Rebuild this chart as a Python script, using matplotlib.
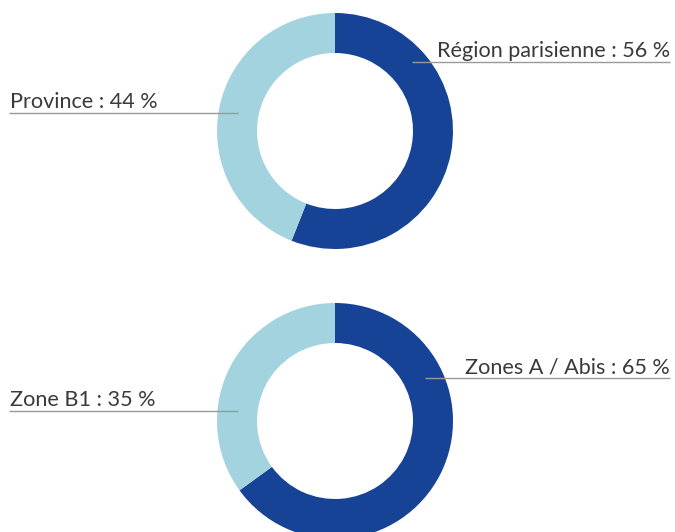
import matplotlib
matplotlib.use("Agg")
import matplotlib.pyplot as plt

# data
top_labels = ["Région parisienne", "Province"]
top_values = [56, 44]
bottom_labels = ["Zones A / Abis", "Zone B1"]
bottom_values = [65, 35]
colors = ["#174396", "#a3d3de"]

W, H = 675, 532
fig = plt.figure(figsize=(W / 100, H / 100), dpi=100)
ax = fig.add_axes([0, 0, 1, 1])
ax.set_xlim(0, W)
ax.set_ylim(0, H)
ax.set_aspect("equal")
ax.axis("off")

R = 118
ring = 40 / R

def donut(values, cy):
    ax.pie(values, colors=colors, startangle=90, counterclock=False,
           center=(335, H - cy), radius=R,
           wedgeprops=dict(width=R * ring, linewidth=0))

donut(top_values, 131)
donut(bottom_values, 421)
ax.set_xlim(0, W)
ax.set_ylim(0, H)

font = dict(family=["Lato", "DejaVu Sans"], fontweight="normal", color="#3a3a3a", fontsize=15.6)
line_col = "#9a9a9a"

def label(text, x0, x1, y_line, ha):
    ax.plot([x0, x1], [H - y_line, H - y_line], color=line_col, lw=1, solid_capstyle="butt")
    tx = x0 + 1 if ha == "left" else x1
    ax.text(tx, H - y_line + 5, text, ha=ha, va="baseline", **font)

label(f"{top_labels[1]} : {top_values[1]} %", 9, 238, 113, "left")
label(f"{top_labels[0]} : {top_values[0]} %", 412, 670, 62, "right")
label(f"{bottom_labels[1]} : {bottom_values[1]} %", 9, 238, 411, "left")
label(f"{bottom_labels[0]} : {bottom_values[0]} %", 425, 670, 378, "right")

fig.savefig("out.png", dpi=100)
